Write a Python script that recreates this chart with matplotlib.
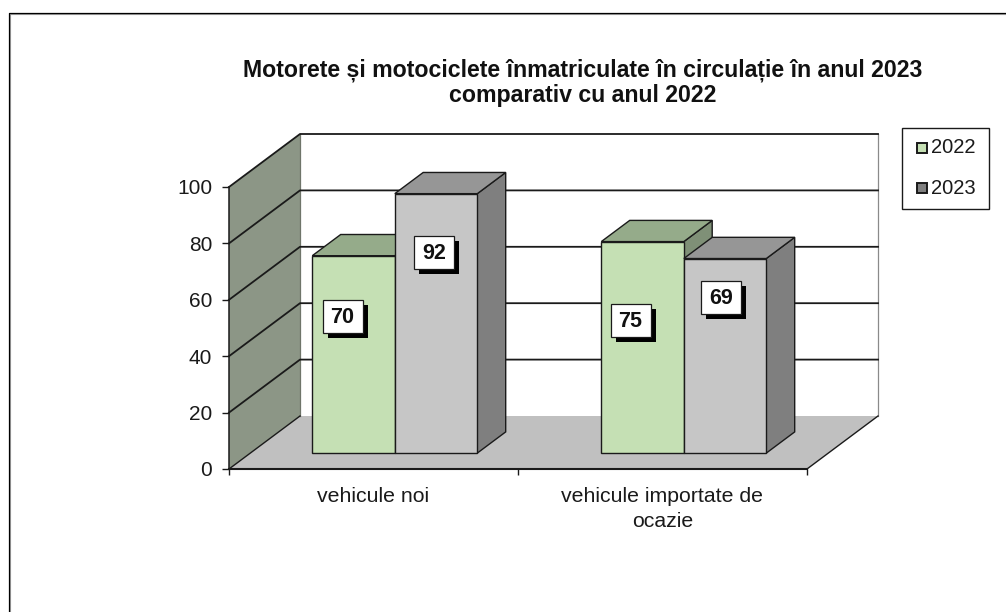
#!/usr/bin/env python3
# -*- coding: utf-8 -*-
"""
Pseudo-3D clustered column chart: mopeds and motorcycles registered, 2023 vs 2022.
"""

import matplotlib

matplotlib.use("Agg")
import matplotlib.pyplot as plt
from matplotlib.patches import Polygon, Rectangle

plt.rcParams["font.family"] = ["Liberation Sans", "DejaVu Sans"]

title = "Motorete și motociclete înmatriculate în circulație în anul 2023\ncomparativ cu anul 2022"
categories = ["vehicule noi", "vehicule importate de\nocazie"]
series_names = ["2022", "2023"]
values_2022 = [70, 75]
values_2023 = [92, 69]
yticks = [0, 20, 40, 60, 80, 100]

W, H = 1006, 612
# plot box in reference pixels: front plane 229..807, y 469 (0) .. 187 (100), back wall +71/-53
X0, X1, Y0, Y100 = 229, 807, 469, 187
DX_PX, DY_PX = 71, 53
XSCALE = (X1 - X0) / len(categories)
YSCALE = (Y0 - Y100) / 100
DX = DX_PX / XSCALE
DY = DY_PX / YSCALE
XMAX = len(categories) + DX
YMAX = 100 + DY

FRONT, BACK = 0.30, 0.70  # bar depth as a fraction of floor depth
BAR_W = 82.5 / XSCALE
LINE = "#1a1a1a"
TEXT = "#1a1a1a"

# label box centres relative to the top-centre of the bar front, pixels (x right, y down)
label_offsets_2022 = [(-11, 61), (-12, 79)]
label_offsets_2023 = [(-2, 59), (-4, 39)]

fig = plt.figure(figsize=(W / 100, H / 100), dpi=100)
fig.patch.set_facecolor("white")

# outer chart frame, open to the right and bottom like the reference
frame = fig.add_axes([0, 0, 1, 1], zorder=0)
frame.set_xlim(0, W)
frame.set_ylim(H, 0)
frame.axis("off")
frame.plot([10.0, 10.0, W], [H, 14.0, 14.0], color="#a0a0a0", lw=0.8)
frame.plot([9.0, 9.0, W], [H, 13.0, 13.0], color="#000000", lw=0.9)

ax = fig.add_axes([X0 / W, 1 - Y0 / H, XMAX * XSCALE / W, YMAX * YSCALE / H], zorder=1)
ax.set_xlim(0, XMAX)
ax.set_ylim(0, YMAX)
ax.patch.set_alpha(0)
for s in ax.spines.values():
    s.set_visible(False)


def poly(pts, fc, ec=LINE, lw=1.0, z=2):
    ax.add_patch(Polygon(pts, closed=True, fc=fc, ec=ec, lw=lw, zorder=z, joinstyle="miter"))


def line(xs, ys, color=LINE, lw=1.1, z=1.4):
    ax.plot(xs, ys, color=color, lw=lw, zorder=z, clip_on=False, solid_capstyle="projecting")


n = len(categories)
# floor and walls
poly([(0, 0), (n, 0), (n + DX, DY), (DX, DY)], "#c0c0c0", ec="none", z=1)
poly([(0, 0), (DX, DY), (DX, 100 + DY), (0, 100)], "#8c9686", ec="none", z=1)
line([DX, DX], [DY, 100 + DY], color="#6f756a", lw=0.9, z=1.2)
line([n + DX, n + DX], [DY, 100 + DY], color="#8a8a8a", lw=0.9, z=1.2)
line([n, n + DX], [0, DY], lw=1.0)
line([0, DX], [0, DY], lw=1.0)

# gridlines over wall and back plane
for t in yticks[1:]:
    line([0, DX, n + DX], [t, t + DY, t + DY], lw=1.3, z=1.3)
line([0, 0], [0, 100], lw=1.1, z=1.6)
line([0, n], [0, 0], lw=1.5, z=1.6)


def bar3d(left, value, front, top, side, z):
    xf, yf = DX * FRONT, DY * FRONT
    xb, yb = DX * BACK, DY * BACK
    l, r = left + xf, left + BAR_W + xf
    poly([(r, yf), (r + xb - xf, yb), (r + xb - xf, value + yb), (r, value + yf)], side, z=z)
    poly([(l, value + yf), (r, value + yf), (r + xb - xf, value + yb), (l + xb - xf, value + yb)], top, z=z)
    poly([(l, yf), (r, yf), (r, value + yf), (l, value + yf)], front, z=z + 0.1)


styles = [("#c5e0b4", "#95ab8a", "#7f9077"), ("#c6c6c6", "#969696", "#7f7f7f")]
for i in range(n):
    center = i + 0.5
    bar3d(center - BAR_W, values_2022[i], *styles[0], z=3)
    bar3d(center, values_2023[i], *styles[1], z=3.5)


def value_label(x, y, value):
    # 40x33 px white box with a hard black shadow 5 px down and right
    w, h = 40 / XSCALE, 33 / YSCALE
    sx, sy = 5 / XSCALE, 5 / YSCALE
    ax.add_patch(Rectangle((x - w / 2 + sx, y - h / 2 - sy), w, h, fc="black", ec="none", zorder=6))
    ax.add_patch(Rectangle((x - w / 2, y - h / 2), w, h, fc="white", ec=LINE, lw=0.9, zorder=7))
    ax.text(x, y - 0.2, str(value), ha="center", va="center", fontsize=15.5, fontweight="bold",
            color="#111111", zorder=8)


for i in range(n):
    center = i + 0.5 + DX * FRONT
    for j, (vals, offs) in enumerate([(values_2022, label_offsets_2022), (values_2023, label_offsets_2023)]):
        bx = center + (j - 0.5) * BAR_W + offs[i][0] / XSCALE
        by = vals[i] + DY * FRONT - offs[i][1] / YSCALE
        value_label(bx, by, vals[i])

# axis ticks
ax.set_xticks(range(n + 1))
ax.set_xticklabels([])
ax.set_yticks(yticks)
ax.set_yticklabels([str(t) for t in yticks], fontsize=15, color=TEXT)
ax.tick_params(axis="y", length=5, width=1.0, color=LINE, pad=7)
ax.tick_params(axis="x", length=4.3, width=1.0, color=LINE)
for i, c in enumerate(categories):
    ax.text(i + 0.5, -18 / YSCALE, c, ha="center", va="top", fontsize=15.3, color=TEXT,
            linespacing=1.42, clip_on=False)

frame.text(583, 83, title, ha="center", va="center", fontsize=16.7, fontweight="bold", color="#111111",
           linespacing=1.1)

# legend box
frame.add_patch(Rectangle((902.5, 127.5), 87, 81, fc="white", ec=LINE, lw=1.0, zorder=2))
for name, color, y in zip(series_names, ["#c5e0b4", "#7f7f7f"], [147.5, 188]):
    frame.add_patch(Rectangle((917.5, y - 5), 10, 10, fc=color, ec=LINE, lw=1.4, zorder=3))
    frame.text(931.5, y, name, ha="left", va="center", fontsize=14.5, color=TEXT, zorder=3)

fig.savefig("out.png", dpi=100)
